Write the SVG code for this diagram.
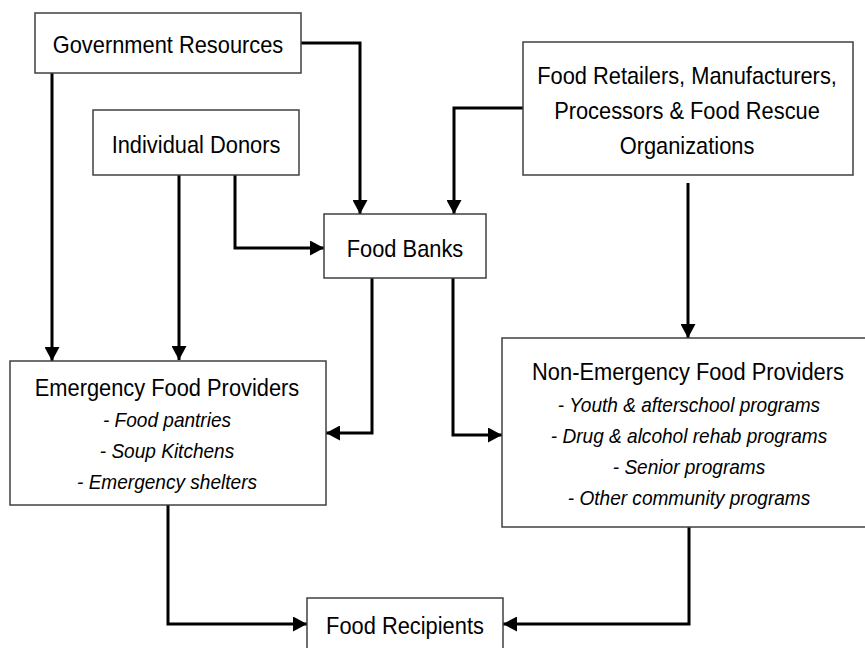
<svg xmlns="http://www.w3.org/2000/svg" width="865" height="648" viewBox="0 0 865 648">
  <style>
    .box { fill: #ffffff; stroke: #404040; stroke-width: 1.5; }
    .t { font-family: "Liberation Sans", Arial, sans-serif; font-size: 24px; fill: #000; text-anchor: middle; }
    .i { font-family: "Liberation Sans", Arial, sans-serif; font-size: 20.5px; font-style: italic; fill: #000; text-anchor: middle; }
    .link { fill: none; stroke: #000; stroke-width: 3; marker-end: url(#arrow); }
  </style>
  <defs>
    <marker id="arrow" markerUnits="userSpaceOnUse" viewBox="0 0 14 15" refX="14" refY="7.5" markerWidth="14" markerHeight="15" orient="auto">
      <path d="M0,0 L14,7.5 L0,15 Z" fill="#000"/>
    </marker>
  </defs>
  <rect width="865" height="648" fill="#ffffff"/>

  <g id="connectors">
    <path class="link" d="M301,43 H360 V214"/>
    <path class="link" d="M52,73 V361"/>
    <path class="link" d="M179,175 V360"/>
    <path class="link" d="M235,175 V248 H324"/>
    <path class="link" d="M523,108 H454 V214"/>
    <path class="link" d="M688,183 V338"/>
    <path class="link" d="M372,278 V433 H326"/>
    <path class="link" d="M453,278 V435 H502"/>
    <path class="link" d="M168,505 V624 H307"/>
    <path class="link" d="M689,527 V624 H503"/>
  </g>

  <!-- labels use a slightly condensed face: scaled horizontally around their anchor -->
  <g id="government-resources">
    <rect class="box" x="35" y="13" width="266" height="60"/>
    <text class="t" transform="translate(168,53) scale(0.91,1)">Government Resources</text>
  </g>

  <g id="individual-donors">
    <rect class="box" x="93" y="110" width="206" height="65"/>
    <text class="t" transform="translate(196,153) scale(0.91,1)">Individual Donors</text>
  </g>

  <g id="food-banks">
    <rect class="box" x="324" y="214" width="162" height="64"/>
    <text class="t" transform="translate(405,257) scale(0.91,1)">Food Banks</text>
  </g>

  <g id="food-retailers">
    <rect class="box" x="523" y="42" width="330" height="133"/>
    <text class="t" transform="translate(687,84) scale(0.91,1)">Food Retailers, Manufacturers,</text>
    <text class="t" transform="translate(687,119) scale(0.91,1)">Processors &amp; Food Rescue</text>
    <text class="t" transform="translate(687,154) scale(0.91,1)">Organizations</text>
  </g>

  <g id="emergency-food-providers">
    <rect class="box" x="10" y="361" width="316" height="144"/>
    <text class="t" transform="translate(167,396) scale(0.91,1)">Emergency Food Providers</text>
    <text class="i" transform="translate(167,427) scale(0.93,1)">- Food pantries</text>
    <text class="i" transform="translate(167,458) scale(0.93,1)">- Soup Kitchens</text>
    <text class="i" transform="translate(167,489) scale(0.93,1)">- Emergency shelters</text>
  </g>

  <g id="non-emergency-food-providers">
    <rect class="box" x="502" y="338" width="372" height="189"/>
    <text class="t" transform="translate(688,380) scale(0.91,1)">Non-Emergency Food Providers</text>
    <text class="i" transform="translate(689,412) scale(0.93,1)">- Youth &amp; afterschool programs</text>
    <text class="i" transform="translate(689,443) scale(0.93,1)">- Drug &amp; alcohol rehab programs</text>
    <text class="i" transform="translate(689,474) scale(0.93,1)">- Senior programs</text>
    <text class="i" transform="translate(689,505) scale(0.93,1)">- Other community programs</text>
  </g>

  <g id="food-recipients">
    <rect class="box" x="307" y="598" width="196" height="60"/>
    <text class="t" transform="translate(405,634) scale(0.91,1)">Food Recipients</text>
  </g>
</svg>
